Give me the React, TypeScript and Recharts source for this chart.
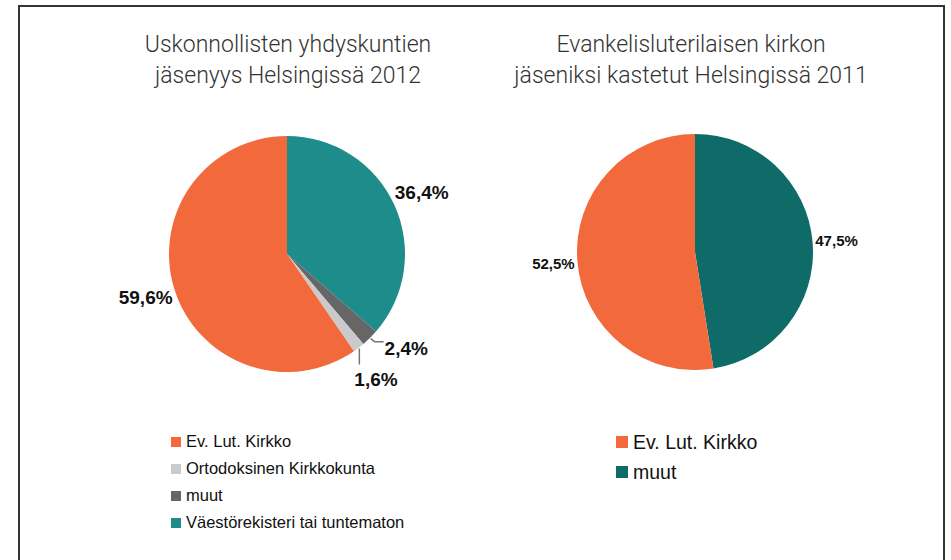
import React from "react";
import { Cell, Pie, PieChart } from "recharts";

// Uskonnollisten yhdyskuntien jäsenyys 2012 (in pie order, clockwise from top)
const membershipNames = [
  "Väestörekisteri tai tuntematon",
  "muut",
  "Ortodoksinen Kirkkokunta",
  "Ev. Lut. Kirkko",
];
const membershipValues = [36.4, 2.4, 1.6, 59.6];
const membershipColors = ["#1e8c8a", "#666666", "#cacaca", "#f2693b"];
// legend order differs from pie order
const membershipLegendOrder = [3, 2, 1, 0];

// Ev.lut. kirkon jäseniksi kastetut 2011
const baptisedNames = ["muut", "Ev. Lut. Kirkko"];
const baptisedValues = [47.5, 52.5];
const baptisedColors = ["#0e6b68", "#f2693b"];
const baptisedLegendOrder = [1, 0];

const membershipData = membershipNames.map((name, i) => ({
  name,
  value: membershipValues[i],
}));
const baptisedData = baptisedNames.map((name, i) => ({
  name,
  value: baptisedValues[i],
}));

const RADIAN = Math.PI / 180;
const fmt = (v: number) => v.toFixed(1).replace(".", ",") + "%";

function membershipLabel(props: any) {
  const { cx, cy, midAngle, outerRadius, index, value } = props;
  const cos = Math.cos(-midAngle * RADIAN);
  const sin = Math.sin(-midAngle * RADIAN);
  const style = { fontFamily: "Liberation Sans, Arial, sans-serif", fontWeight: 700, fontSize: 19, fill: "#111" };
  if (index === 1 || index === 2) {
    const x0 = cx + (outerRadius + 1) * cos;
    const y0 = cy + (outerRadius + 1) * sin;
    if (index === 1) {
      return (
        <g>
          <polyline points={`${x0},${y0} ${x0 + 4},${y0 + 3} ${x0 + 13},${y0 + 3}`} stroke="#777" strokeWidth={1.5} fill="none" />
          <text x={x0 + 14} y={y0 + 10} dominantBaseline="central" style={style}>
            {fmt(value)}
          </text>
        </g>
      );
    }
    return (
      <g>
        <polyline points={`${x0},${y0} ${x0},${y0 + 16}`} stroke="#777" strokeWidth={1.5} fill="none" />
        <text x={x0 - 5} y={y0 + 31} dominantBaseline="central" style={style}>
          {fmt(value)}
        </text>
      </g>
    );
  }
  const r = outerRadius + 30;
  return (
    <text x={cx + r * cos} y={cy + r * sin} textAnchor="middle" dominantBaseline="central" style={style}>
      {fmt(value)}
    </text>
  );
}

function baptisedLabel(props: any) {
  const { cx, cy, midAngle, outerRadius, value } = props;
  const r = outerRadius + 24;
  const x = cx + r * Math.cos(-midAngle * RADIAN);
  const y = cy + r * Math.sin(-midAngle * RADIAN);
  return (
    <text
      x={x}
      y={y}
      textAnchor="middle"
      dominantBaseline="central"
      style={{ fontFamily: "Liberation Sans, Arial, sans-serif", fontWeight: 700, fontSize: 15, fill: "#111" }}
    >
      {fmt(value)}
    </text>
  );
}

const titleStyle: React.CSSProperties = {
  position: "absolute",
  textAlign: "center",
  fontFamily: "Roboto, 'Liberation Sans', sans-serif",
  fontWeight: 300,
  fontSize: 23,
  lineHeight: "31px",
  color: "#333",
  whiteSpace: "nowrap",
};

function LegendList({
  order,
  names,
  colors,
  fontSize,
  gap,
  square,
}: {
  order: number[];
  names: string[];
  colors: string[];
  fontSize: number;
  gap: number;
  square: number;
}) {
  return (
    <div style={{ fontFamily: "Liberation Sans, Arial, sans-serif", fontSize, color: "#111" }}>
      {order.map((i) => (
        <div key={names[i]} style={{ display: "flex", alignItems: "center", height: gap }}>
          <span
            style={{ width: square, height: square, background: colors[i], display: "inline-block", marginRight: 5 }}
          />
          <span>{names[i]}</span>
        </div>
      ))}
    </div>
  );
}

export default function App() {
  return (
    <div style={{ position: "absolute", left: 0, top: 0, width: 951, height: 560, background: "#fff", overflow: "hidden" }}>
      <div
        style={{
          position: "absolute",
          left: 18,
          top: 5,
          width: 923,
          height: 600,
          border: "2px solid #333",
        }}
      />
      <div style={{ ...titleStyle, left: 88, width: 400, top: 29 }}>
        Uskonnollisten yhdyskuntien
        <br />
        jäsenyys Helsingissä 2012
      </div>
      <div style={{ ...titleStyle, left: 491, width: 400, top: 29 }}>
        Evankelisluterilaisen kirkon
        <br />
        jäseniksi kastetut Helsingissä 2011
      </div>
      <div style={{ position: "absolute", left: 0, top: 0 }}>
        <PieChart width={951} height={420} margin={{ top: 0, right: 0, bottom: 0, left: 0 }}>
          <Pie
            data={membershipData}
            dataKey="value"
            nameKey="name"
            cx={287}
            cy={254}
            outerRadius={118}
            startAngle={90}
            endAngle={-270}
            stroke="none"
            label={membershipLabel}
            labelLine={false}
            isAnimationActive={false}
          >
            {membershipData.map((d, i) => (
              <Cell key={d.name} fill={membershipColors[i]} />
            ))}
          </Pie>
          <Pie
            data={baptisedData}
            dataKey="value"
            nameKey="name"
            cx={695}
            cy={252}
            outerRadius={118}
            startAngle={90}
            endAngle={-270}
            stroke="none"
            label={baptisedLabel}
            labelLine={false}
            isAnimationActive={false}
          >
            {baptisedData.map((d, i) => (
              <Cell key={d.name} fill={baptisedColors[i]} />
            ))}
          </Pie>
        </PieChart>
      </div>
      <div style={{ position: "absolute", left: 171, top: 428 }}>
        <LegendList
          order={membershipLegendOrder}
          names={membershipNames}
          colors={membershipColors}
          fontSize={16.5}
          gap={27}
          square={10}
        />
      </div>
      <div style={{ position: "absolute", left: 616, top: 427 }}>
        <LegendList
          order={baptisedLegendOrder}
          names={baptisedNames}
          colors={baptisedColors}
          fontSize={19.5}
          gap={30}
          square={12}
        />
      </div>
    </div>
  );
}
